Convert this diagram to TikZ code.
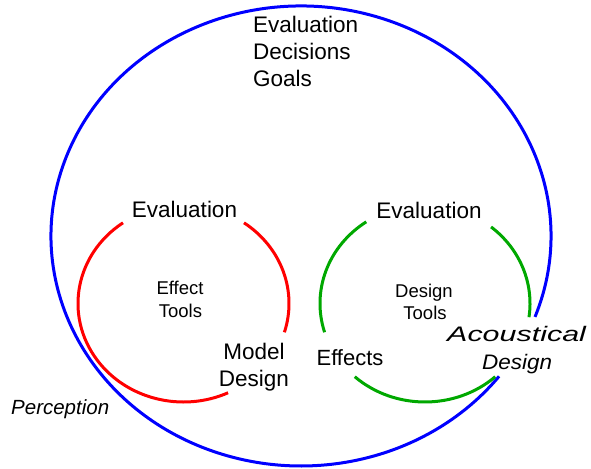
\documentclass[tikz,border=0pt]{standalone}
\usepackage{fontspec}
\setmainfont{Liberation Sans}
\definecolor{cblue}{RGB}{0,0,255}
\definecolor{cred}{RGB}{255,0,0}
\definecolor{cgreen}{RGB}{0,168,0}
\begin{document}
\begin{tikzpicture}[x=1pt,y=1pt,
  ring/.style={line width=3pt},
  big/.style={inner sep=0pt,font=\fontsize{22.5}{27}\selectfont},
  mid/.style={inner sep=0pt,font=\fontsize{22}{27}\selectfont},
  sml/.style={inner sep=0pt,font=\fontsize{18.5}{22}\selectfont},
  ital/.style={inner sep=0pt,font=\fontsize{20.5}{25}\selectfont\itshape}]
\useasboundingbox (0,0) rectangle (591,468);
% outer blue ellipse (gap behind "Acoustical Design")
\draw[ring,cblue] (301,232) ++(-20.6:250 and 230)
  arc[start angle=-20.6,end angle=322.4,x radius=250,y radius=230];
% red cycle
\draw[ring,cred] (183.5,164.5) ++(125:105.5 and 98.5)
  arc[start angle=125,end angle=295,x radius=105.5,y radius=98.5];
\draw[ring,cred] (183.5,164.5) ++(-17:105.5 and 98.5)
  arc[start angle=-17,end angle=55,x radius=105.5,y radius=98.5];
% green cycle
\draw[ring,cgreen] (425,164.5) ++(124:105 and 98.5)
  arc[start angle=124,end angle=197,x radius=105,y radius=98.5];
\draw[ring,cgreen] (425,164.5) ++(228:105 and 98.5)
  arc[start angle=228,end angle=312,x radius=105,y radius=98.5];
\draw[ring,cgreen] (425,164.5) ++(-8:105 and 98.5)
  arc[start angle=-8,end angle=51,x radius=105,y radius=98.5];
% top texts
\node[big,anchor=base west] (t1) at (253,435) {Evaluation};
\node[big,anchor=base west] (t2) at (253,408) {Decisions};
\node[big,anchor=base west] (t3) at (253,381) {Goals};
% red cycle texts
\node[big,anchor=base] (reval) at (184.5,250) {Evaluation};
\node[sml,anchor=base] (reff) at (180,173) {Effect};
\node[sml,anchor=base] (rtools) at (180.5,150) {Tools};
\node[big,anchor=base] (rmodel) at (254,108) {Model};
\node[big,anchor=base] (rdesign) at (254,81) {Design};
% green cycle texts
\node[big,anchor=base] (geval) at (429,249) {Evaluation};
\node[sml,anchor=base] (gdes) at (424,170) {Design};
\node[sml,anchor=base] (gtools) at (425,148) {Tools};
\node[mid,anchor=base] (geffects) at (350,102) {Effects};
\node[inner sep=0pt,anchor=base west,font=\fontsize{21}{25}\selectfont\itshape] (acou) at (447,126) {\scalebox{1.45}[1]{Acoustical}};
\node[inner sep=0pt,anchor=base west,font=\fontsize{21}{25}\selectfont\itshape] (adesign) at (482,98) {\scalebox{1.07}[1]{Design}};
% outside
\node[ital,anchor=base west] (perc) at (11,53) {Perception};
\end{tikzpicture}
\end{document}
